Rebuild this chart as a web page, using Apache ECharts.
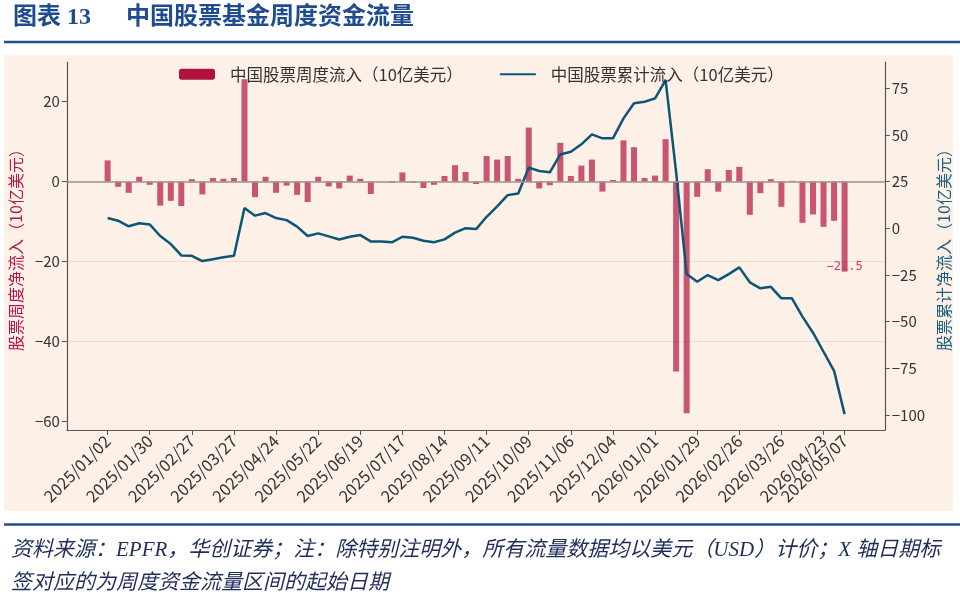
<!DOCTYPE html>
<html>
<head>
<meta charset="utf-8">
<script src="https://cdn.jsdelivr.net/npm/echarts@6.0.0/dist/echarts.min.js"></script>
<style>
  html, body { margin: 0; padding: 0; background: #fff; }
  #chart { width: 960px; height: 596px; }
</style>
</head>
<body>
<div id="chart"></div>
<script>
  // weekly buckets, labelled by the first day of the week
  const weeks = [
    '2025/01/02', '2025/01/09', '2025/01/16', '2025/01/23', '2025/01/30',
    '2025/02/06', '2025/02/13', '2025/02/20', '2025/02/27',
    '2025/03/06', '2025/03/13', '2025/03/20', '2025/03/27',
    '2025/04/03', '2025/04/10', '2025/04/17', '2025/04/24',
    '2025/05/01', '2025/05/08', '2025/05/15', '2025/05/22', '2025/05/29',
    '2025/06/05', '2025/06/12', '2025/06/19', '2025/06/26',
    '2025/07/03', '2025/07/10', '2025/07/17', '2025/07/24', '2025/07/31',
    '2025/08/07', '2025/08/14', '2025/08/21', '2025/08/28',
    '2025/09/04', '2025/09/11', '2025/09/18', '2025/09/25',
    '2025/10/02', '2025/10/09', '2025/10/16', '2025/10/23', '2025/10/30',
    '2025/11/06', '2025/11/13', '2025/11/20', '2025/11/27',
    '2025/12/04', '2025/12/11', '2025/12/18', '2025/12/25',
    '2026/01/01', '2026/01/08', '2026/01/15', '2026/01/22', '2026/01/29',
    '2026/02/05', '2026/02/12', '2026/02/19', '2026/02/26',
    '2026/03/05', '2026/03/12', '2026/03/19', '2026/03/26',
    '2026/04/02', '2026/04/09', '2026/04/16', '2026/04/23', '2026/04/30',
    '2026/05/07'
  ]
  const tickIdx = [0, 4, 8, 12, 16, 20, 24, 28, 32, 36, 40, 44, 48, 52, 56, 60, 64, 68, 70]
  const lastTick = [70]
  const leftTicks = [-60, -40, -20, 0, 20]
  const rightTicks = [-100, -75, -50, -25, 0, 25, 50, 75]

  // 中国股票周度流入 (10亿美元)
  const weeklyFlow = [
    5.3, -1.3, -2.8, 1.2, -0.8, -6.0, -4.8, -6.1, 0.6, -3.2,
    0.9, 0.7, 0.9, 25.6, -3.9, 1.2, -2.8, -1.0, -3.3, -5.1,
    1.2, -1.2, -1.7, 1.5, 0.7, -3.1, 0.0, -0.3, 2.3, -0.3,
    -1.6, -0.8, 1.4, 4.1, 2.4, -0.6, 6.4, 5.5, 6.4, 0.7,
    13.5, -1.7, -0.9, 9.7, 1.4, 4.0, 5.5, -2.5, 0.4, 10.3,
    8.6, 0.9, 1.5, 10.6, -47.5, -57.9, -3.8, 3.1, -2.5, 2.9,
    3.7, -8.3, -2.9, 0.6, -6.3, 0.2, -10.3, -8.2, -11.3, -9.8,
    -22.5
  ]
  // 中国股票累计流入 (10亿美元)
  const cumFlow = [
    5.5, 4.1, 1.1, 2.7, 2.1, -4.1, -8.4, -14.5, -14.7, -17.5,
    -16.5, -15.5, -14.7, 10.9, 6.8, 8.2, 5.5, 4.4, 0.9, -4.1,
    -2.7, -4.3, -6.0, -4.5, -3.6, -7.0, -7.1, -7.5, -4.5, -5.0,
    -6.6, -7.4, -5.9, -2.3, 0.1, -0.4, 6.2, 11.8, 17.8, 18.7,
    32.5, 30.7, 30.0, 39.6, 41.0, 45.0, 50.3, 48.2, 48.2, 58.9,
    67.0, 67.8, 69.6, 79.4, 30.0, -24.5, -28.6, -25.0, -27.7, -24.5,
    -20.9, -28.9, -32.1, -31.3, -37.5, -37.5, -47.3, -55.9, -66.1, -76.3,
    -99.5
  ]

  const barName = '中国股票周度流入（10亿美元）'
  const lineName = '中国股票累计流入（10亿美元）'
  const cjk = '"Noto Sans CJK SC", sans-serif'
  const serif = '"Liberation Serif", "Noto Sans CJK SC", serif'
  const minus = v => String(v).replace('-', '\u2212')
  const last = weeklyFlow.length - 1

  const myChart = echarts.init(document.getElementById('chart'))

  const xLabel = {
    rotate: 45,
    margin: 8,
    hideOverlap: false,
    color: '#333',
    fontSize: 16.5,
    fontFamily: cjk,
    formatter: v => weeks[v]
  }

  const option = {
    backgroundColor: '#ffffff',
    animation: false,
    title: [
      {
        text: '图表 13',
        left: 8, top: 1,
        textStyle: { color: '#1E4C8F', fontSize: 24, fontWeight: 'bold', fontFamily: serif }
      },
      {
        text: '中国股票基金周度资金流量',
        left: 121, top: 1,
        textStyle: { color: '#1E4C8F', fontSize: 24, fontWeight: 'bold', fontFamily: serif }
      },
      {
        text: '资料来源：EPFR，华创证券；注：除特别注明外，所有流量数据均以美元（USD）计价；X 轴日期标\n签对应的为周度资金流量区间的起始日期',
        left: 6, top: 529,
        textStyle: { color: '#1F2F5C', fontSize: 21, fontStyle: 'italic', fontWeight: 'normal', fontFamily: serif, lineHeight: 33 }
      }
    ],
    graphic: [
      { type: 'rect', z: -10, shape: { x: 4, y: 55, width: 949, height: 456 }, style: { fill: '#FDF0E6' } },
      { type: 'line', shape: { x1: 4, y1: 42, x2: 960, y2: 42 }, style: { stroke: '#1F4E8C', lineWidth: 2.5 } },
      { type: 'line', shape: { x1: 4, y1: 524.5, x2: 960, y2: 524.5 }, style: { stroke: '#1F4E8C', lineWidth: 2.5 } }
    ],
    legend: {
      left: 174, top: 61,
      itemWidth: 36, itemHeight: 11, itemGap: 36,
      textStyle: { fontSize: 16.5, color: '#333', fontFamily: cjk, padding: [0, 0, 0, 10] },
      data: [
        { name: barName, itemStyle: { color: '#B0123F', opacity: 1 } },
        { name: lineName, itemStyle: { opacity: 0 } }
      ]
    },
    grid: { left: 65, right: 73, top: 62, bottom: 166, containLabel: false },
    xAxis: [
      {
        type: 'value',
        position: 'bottom',
        min: -3.87,
        max: 73.82,
        splitLine: { show: false },
        axisLine: { onZero: false, lineStyle: { color: '#555', width: 1.2 } },
        axisTick: { customValues: tickIdx, length: 5, lineStyle: { color: '#555' } },
        axisLabel: Object.assign({ customValues: tickIdx.slice(0, -1) }, xLabel)
      },
      {
        // second label row only for the last week, so it can overlap 04/23 like the source
        type: 'value',
        position: 'bottom',
        offset: 0,
        min: -3.87,
        max: 73.82,
        splitLine: { show: false },
        axisLine: { show: false, onZero: false },
        axisTick: { show: false },
        axisLabel: Object.assign({ customValues: lastTick }, xLabel)
      }
    ],
    yAxis: [
      {
        type: 'value',
        min: -62.1,
        max: 29.9,
        splitNumber: 5,
        name: '股票周度净流入（10亿美元）',
        nameLocation: 'middle',
        nameRotate: 90,
        nameGap: 39,
        nameTextStyle: { color: '#B5174A', fontSize: 16, fontFamily: cjk },
        axisLine: { show: true, onZero: false, lineStyle: { color: '#555', width: 1.2 } },
        axisTick: { show: true, customValues: leftTicks, length: 5, lineStyle: { color: '#555' } },
        axisLabel: { customValues: leftTicks, color: '#333', fontSize: 15, fontFamily: cjk, margin: 7, formatter: minus },
        splitLine: { show: true, showMinLine: false, showMaxLine: false, lineStyle: { color: '#EBDDD3', width: 1 } }
      },
      {
        type: 'value',
        min: -108,
        max: 89.1,
        name: '股票累计净流入（10亿美元）',
        nameLocation: 'middle',
        nameRotate: 90,
        nameGap: 48,
        nameTextStyle: { color: '#1B5E7E', fontSize: 16, fontFamily: cjk },
        axisLine: { show: true, onZero: false, lineStyle: { color: '#555', width: 1.2 } },
        axisTick: { show: true, customValues: rightTicks, length: 5, lineStyle: { color: '#555' } },
        axisLabel: { customValues: rightTicks, color: '#333', fontSize: 15, fontFamily: cjk, margin: 7, formatter: minus },
        splitLine: { show: false }
      }
    ],
    series: [
      {
        name: barName,
        type: 'bar',
        xAxisIndex: 0,
        yAxisIndex: 0,
        barWidth: 6,
        itemStyle: { color: 'rgba(176,18,64,0.7)' },
        data: weeklyFlow.map((v, i) => [i, v]),
        markLine: {
          silent: true,
          symbol: 'none',
          label: { show: false },
          lineStyle: { color: '#9E958D', width: 1.5, type: 'solid' },
          data: [{ yAxis: 0 }]
        },
        markPoint: {
          silent: true,
          symbol: 'circle',
          symbolSize: 0,
          data: [{ coord: [last, weeklyFlow[last]], value: weeklyFlow[last] }],
          label: {
            show: true,
            position: 'inside',
            offset: [0, -5],
            color: '#D23C62',
            fontSize: 12,
            fontFamily: '"DejaVu Sans Mono", monospace',
            formatter: p => minus(p.value.toFixed(1))
          }
        }
      },
      {
        name: lineName,
        type: 'line',
        xAxisIndex: 0,
        yAxisIndex: 1,
        symbol: 'none',
        lineStyle: { color: '#0B5677', width: 2.5 },
        itemStyle: { color: '#0B5677' },
        data: cumFlow.map((v, i) => [i, v])
      }
    ]
  }

  myChart.setOption(option)
</script>
</body>
</html>
